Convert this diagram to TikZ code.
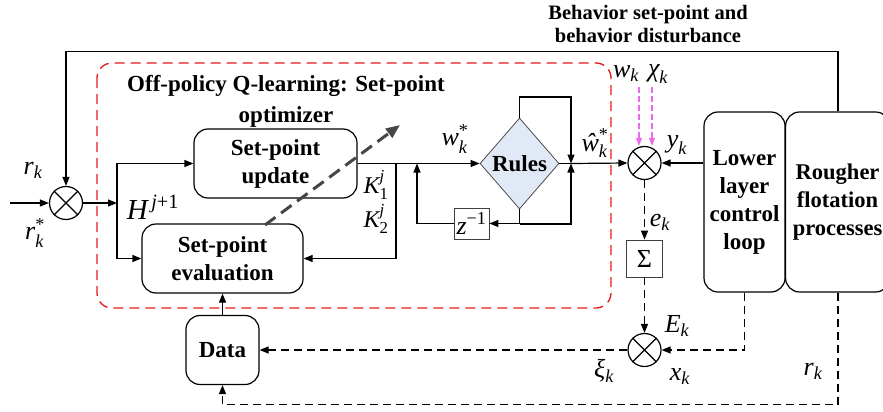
\documentclass[tikz,border=0pt]{standalone}
\usepackage{fontspec}
\setmainfont{Liberation Serif}
\usepackage{amsmath}
\usetikzlibrary{arrows.meta,shapes.geometric}

\definecolor{framered}{RGB}{230,25,25}
\definecolor{noisepink}{RGB}{238,105,238}
\definecolor{rulefill}{RGB}{226,233,246}
\definecolor{darkgrayarrow}{RGB}{70,70,70}

\newcommand\bfont{\fontsize{23}{28}\selectfont\bfseries}
\newcommand\rfont{\fontsize{22.5}{28}\selectfont\bfseries}
\newcommand\tfont{\fontsize{23}{31}\selectfont\bfseries}
\newcommand\sfontb{\fontsize{20.5}{23.5}\selectfont\bfseries}
\newcommand\mfont{\fontsize{26}{28}\selectfont}
\newcommand\kfont{\fontsize{24}{26}\selectfont}
\newcommand\hfont{\fontsize{29}{31}\selectfont}
\newcommand\mv[1]{\textit{#1}}

\tikzset{
  ln/.style={line width=1.2pt},
  arr/.style={ln, -{Triangle[length=9pt,width=7pt]}},
  darr/.style={arr, dash pattern=on 8pt off 5pt},
  blk/.style={draw, ln, rounded corners=14pt, align=center, font=\bfont, inner sep=0pt},
  sumc/.style={circle, draw, ln, minimum size=33pt, inner sep=0pt},
  opbox/.style={draw=black!75, line width=0.8pt, inner sep=0pt, font=\mfont},
  lbl/.style={font=\mfont, inner sep=0pt},
  noisearr/.style={noisepink, line width=1.2pt, dash pattern=on 6pt off 3pt, -{Triangle[length=8pt,width=6pt]}},
}

\begin{document}
\begin{tikzpicture}[x=1pt,y=-1pt]
\useasboundingbox (0,0) rectangle (883,412);
\fill[white] (0,0) rectangle (883,412);

% optimizer frame
\draw[framered, line width=1.3pt, dash pattern=on 10pt off 6pt, rounded corners=15pt]
  (97,63) rectangle (611,308);
\node[font=\tfont, align=center] (title) at (286,101) {Off-policy Q-learning: Set-point\\optimizer};
\node[font=\sfontb, align=center] (behav) at (648,24) {Behavior set-point and\\behavior disturbance};

% blocks
\node[blk, minimum width=163pt, minimum height=69pt] (upd) at (275.5,163.5) {Set-point\\update};
\node[blk, minimum width=161pt, minimum height=69pt] (eval) at (222.5,258.5) {Set-point\\evaluation};
\node[blk, minimum width=73pt, minimum height=69pt] (data) at (222.5,350) {Data};
\node[blk, font=\rfont, minimum width=104pt, minimum height=180pt, anchor=west] (rough) at (785,202) {Rougher\\flotation\\processes};
\node[blk, minimum width=81pt, minimum height=180pt] (low) at (744.5,202) {Lower\\layer\\control\\loop};
\node[diamond, draw=black!70, line width=0.8pt, fill=rulefill, minimum width=79pt, minimum height=91pt,
      inner sep=0pt, font=\bfont] (rules) at (519.5,163.5) {Rules};
\node[opbox, minimum width=35pt, minimum height=31pt] (z) at (471.5,223.5) {$\mv{z}^{\textup{−1}}$};
\node[opbox, minimum width=36pt, minimum height=37pt] (sig) at (644.5,258.5) {Σ};

% summing junctions
\node[sumc] (s1) at (66,203) {};
\node[sumc] (s2) at (644.5,163) {};
\node[sumc] (s3) at (644.5,350) {};
\foreach \s in {s1,s2,s3}
  \draw[ln] (\s.north west) -- (\s.south east) (\s.north east) -- (\s.south west);

% helper points
\coordinate (in) at (10,203);
\coordinate (br) at (117,203);
\coordinate (kb) at (396,163);
\coordinate (J) at (571,163.5);
\coordinate (lt) at (571,97);
\coordinate (lb) at (571,224);
\coordinate (zb) at (417,163.5);
\coordinate (m1) at (639,87);
\coordinate (m2) at (652,87);
\coordinate (ga) at (265,225);
\coordinate (gb) at (400,125);

% solid signal paths
\draw[arr] (in) -- (s1.west);
\draw[arr] (rough.north -| 838,0) -- ++(0,-60) -| (s1.north);
\draw[arr] (s1.east) -- (br);
\draw[arr] (br) |- (upd.west);
\draw[arr] (br) |- (eval.west);
\draw[arr] (upd.east) -- (rules.west);
\draw[arr] (kb) |- (eval.east);
\draw[ln] (rules.east) -- (J);
\draw[arr] (J) -- (s2.west);
\draw[arr] (rules.north) |- (lt) -- (J);
\draw[arr] (rules.south) |- (z.east);
\draw[arr] (rules.south |- lb) -- (lb) -- (J);
\draw[arr] (z.west) -| (zb);
\draw[arr] (low.west |- s2) -- (s2.east);
\draw[arr] (data.north) -- (eval.south);

% disturbances
\draw[noisearr] (m1) -- (m1 |- s2.north);
\draw[noisearr] (m2) -- (m2 |- s2.north);

% dashed data paths
\draw[darr] (s2.south) -- (sig.north);
\draw[darr] (sig.south) -- (s3.north);
\draw[darr] (low.south) |- (s3.east);
\draw[darr] (s3.west) -- (data.east);
\draw[darr] (rough.south -| 838,0) -- ++(0,112) -| (data.south);

% policy update arrow
\draw[darkgrayarrow, line width=3pt, dash pattern=on 13pt off 7pt, -{Triangle[length=14pt,width=11pt]}] (ga) -- (gb);

% signal labels
\node[lbl] (lr) at (33,170) {$\mv{r}_{\mv{k}}$};
\node[lbl] (lrs) at (35,233) {$\mv{r}_{\mv{k}}^{\textup{*}}$};
\node[lbl, font=\hfont] (lh) at (153,207) {$\mv{H}^{\,\mv{j}\textup{+1}}$};
\node[lbl] (lw) at (455,139) {$\mv{w}_{\mv{k}}^{\textup{*}}$};
\node[lbl, font=\kfont] (lk1) at (376,185) {$\mv{K}_{\textup{1}}^{\mv{j}}$};
\node[lbl, font=\kfont] (lk2) at (376,219) {$\mv{K}_{\textup{2}}^{\mv{j}}$};
\node[lbl] (lwh) at (595,143) {$\mv{ŵ}_{\mv{k}}^{\textup{*}}$};
\node[lbl] (lwk) at (626,74) {$\mv{w}_{\mv{k}}$};
\node[lbl] (lchi) at (658,74) {$\mv{χ}_{\mv{k}}$};
\node[lbl] (ly) at (677,145) {$\mv{y}_{\mv{k}}$};
\node[lbl] (le) at (660,222) {$\mv{e}_{\mv{k}}$};
\node[lbl] (lE) at (677,326) {$\mv{E}_{\mv{k}}$};
\node[lbl] (lxi) at (604,371) {$\mv{ξ}_{\mv{k}}$};
\node[lbl] (lx) at (680,377) {$\mv{x}_{\mv{k}}$};
\node[lbl] (lr2) at (813,371) {$\mv{r}_{\mv{k}}$};
\end{tikzpicture}
\end{document}
